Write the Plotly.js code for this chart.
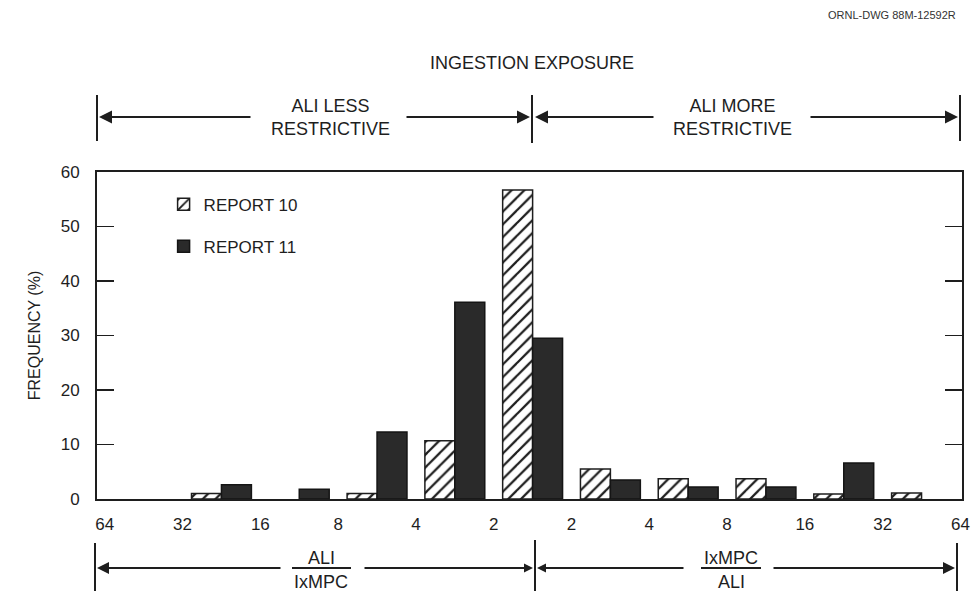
<!DOCTYPE html>
<html>
<head>
<meta charset="utf-8">
<script src="https://cdn.plot.ly/plotly-3.0.1.min.js"></script>
<style>html,body{margin:0;padding:0;background:#fff;}#chart{width:971px;height:591px;}</style>
</head>
<body>
<div id="chart"></div>
<script>
// ---- data ----
const binIndex = [0, 1, 2, 3, 4, 5, 6, 7, 8, 9, 10];
const binNames = ['64–32', '32–16', '16–8', '8–4', '4–2', '2–2', '2–4', '4–8', '8–16', '16–32', '32–64'];
const report10 = [0, 1.0, 0, 1.0, 10.7, 56.7, 5.5, 3.7, 3.7, 0.9, 1.1];
const report11 = [0, 2.6, 1.8, 12.3, 36.1, 29.5, 3.5, 2.2, 2.2, 6.6, 0];
const tickPos = [-0.5, 0.5, 1.5, 2.5, 3.5, 4.5, 5.5, 6.5, 7.5, 8.5, 9.5, 10.5];
const tickText = ['64', '32', '16', '8', '4', '2', '2', '4', '8', '16', '32', '64'];
const yTicks = [0, 10, 20, 30, 40, 50, 60];

// ---- layout helpers (pixel -> paper) ----
const L = 97, T = 172, W = 865, H = 327;
const fx = p => (p - L) / W;
const fy = p => (T + H - p) / H;
const FONT = 'Arial, "Liberation Sans", Helvetica, sans-serif';
const INK = '#1e1e1e';
// a 0 % frequency draws no bar at all (not even an outline)
const visibleBars = vals => vals.map(v => (v > 0 ? v : null));

const traces = [
  {
    type: 'bar', name: 'REPORT 10', legendgroup: 'r10', x: binIndex, y: visibleBars(report10), customdata: binNames,
    marker: {
      color: '#ffffff',
      pattern: {shape: '/', fgcolor: INK, bgcolor: '#ffffff', size: 9, solidity: 0.25},
      line: {color: INK, width: 1.5}
    }
  },
  {
    type: 'bar', name: 'REPORT 11', legendgroup: 'r11', x: binIndex, y: visibleBars(report11), customdata: binNames,
    marker: {color: '#2a2a2a', line: {color: '#151515', width: 1.5}}
  }
];

function vline(px, py0, py1) {
  return {type: 'line', xref: 'paper', yref: 'paper', x0: fx(px), x1: fx(px), y0: fy(py0), y1: fy(py1),
          line: {color: INK, width: 2}};
}
function hline(px0, px1, py) {
  return {type: 'line', xref: 'paper', yref: 'paper', x0: fx(px0), x1: fx(px1), y0: fy(py), y1: fy(py),
          line: {color: INK, width: 2}};
}
function arrow(headX, tailX, py, size) {
  return {xref: 'paper', yref: 'paper', x: fx(headX), y: fy(py), ax: tailX - headX, ay: 0,
          text: '', showarrow: true, arrowhead: 2, arrowsize: size, arrowwidth: 2, arrowcolor: INK,
          standoff: 0, startstandoff: 0};
}
function label(text, px, py, size, extra) {
  return Object.assign({xref: 'paper', yref: 'paper', x: fx(px), y: fy(py), text: text, showarrow: false,
          font: {family: FONT, size: size, color: INK}, xanchor: 'center', yanchor: 'middle'}, extra || {});
}

const shapes = [
  vline(97, 95, 141), vline(532, 95, 143), vline(960, 95, 141),
  vline(95, 543, 591), vline(535, 540, 591), vline(957, 543, 591),
  hline(292, 351, 568), hline(701, 761, 568)
];

const annotations = [
  label('ORNL-DWG 88M-12592R', 958, 15, 11, {xanchor: 'right', font: {family: FONT, size: 11, color: '#333'}}),
  label('INGESTION EXPOSURE', 532, 63, 18),
  label('ALI LESS<br>RESTRICTIVE', 330, 117, 18),
  label('ALI MORE<br>RESTRICTIVE', 732, 117, 18),
  label('ALI', 321, 558, 18),
  label('IxMPC', 321, 582, 18),
  label('IxMPC', 731, 558, 18),
  label('ALI', 731, 582, 18),
  arrow(99, 252, 117, 1.3),
  arrow(530, 405, 117, 1.3),
  arrow(535, 655, 117, 1.3),
  arrow(958, 809, 117, 1.3),
  arrow(97, 282, 568, 1.2),
  arrow(533, 363, 568, 0.9),
  arrow(537, 685, 568, 0.9),
  arrow(955, 772, 568, 1.2)
];

const layout = {
  width: 971, height: 591,
  margin: {l: L, r: 971 - L - W, t: T, b: 591 - T - H, pad: 0},
  paper_bgcolor: '#ffffff', plot_bgcolor: '#ffffff',
  font: {family: FONT, color: INK, size: 17},
  barmode: 'group', bargap: 0.23, bargroupgap: 0,
  showlegend: true,
  legend: {x: 0.077, y: 0.955, xanchor: 'left', yanchor: 'top', bgcolor: 'rgba(0,0,0,0)',
           traceorder: 'grouped', tracegroupgap: 17,
           font: {family: FONT, size: 17, color: INK}, itemwidth: 30},
  xaxis: {
    range: [-0.6, 10.52], tickvals: tickPos, ticktext: tickText, ticks: '',
    showgrid: false, zeroline: false, showline: true, mirror: true, linecolor: INK, linewidth: 2,
    tickfont: {family: FONT, size: 17, color: INK}, ticklabelstandoff: 9
  },
  yaxis: {
    range: [0, 60], tickvals: yTicks, ticks: 'inside', ticklen: 17, tickwidth: 1.5, tickcolor: INK,
    showgrid: false, zeroline: false, showline: true, mirror: 'allticks', linecolor: INK, linewidth: 2,
    tickfont: {family: FONT, size: 17, color: INK}, ticklabelstandoff: 12,
    title: {text: 'FREQUENCY (%)', font: {family: FONT, size: 16, color: INK}, standoff: 16}
  },
  shapes: shapes,
  annotations: annotations
};

Plotly.newPlot('chart', traces, layout, {displayModeBar: false, staticPlot: true});
</script>
</body>
</html>
